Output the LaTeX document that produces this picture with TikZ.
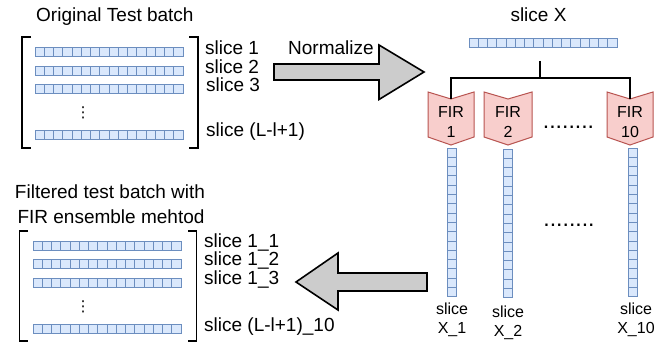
\documentclass[tikz,border=0pt]{standalone}
\usepackage{fontspec}
\setmainfont{Liberation Sans}
\newfontfamily\symfont{DejaVu Sans}
\definecolor{cellfill}{HTML}{DAE8FC}
\definecolor{cellline}{HTML}{6C8EBF}
\definecolor{firfill}{HTML}{F8CECC}
\definecolor{firline}{HTML}{B85450}
\definecolor{arrowfill}{HTML}{CCCCCC}
\tikzset{
  cell/.style={draw=cellline,fill=cellfill,line width=0.9pt},
  holder/.style={inner sep=0pt,outer sep=0pt,draw=none},
  lbl/.style={inner sep=0pt,anchor=base west,font=\fontsize{19}{23}\selectfont},
  ctr/.style={inner sep=0pt,anchor=base,font=\fontsize{19}{23}\selectfont},
  small/.style={inner sep=0pt,anchor=base,font=\fontsize{16}{19}\selectfont},
  dotsty/.style={inner sep=0pt,anchor=base,font=\fontsize{23}{26}\selectfont},
  vdots/.style={inner sep=0pt,anchor=base,font=\symfont\fontsize{15}{18}\selectfont},
  firsty/.style={draw=firline,fill=firfill,line width=1pt,line join=miter},
  bracket/.style={draw=black,line width=1.8pt},
  bigarrow/.style={draw=black,fill=arrowfill,line width=1.6pt,line join=miter},
  tree/.style={draw=black,line width=1.4pt}
}
% horizontal row of 16 cells: name, left x, top y
\newcommand\hrow[3]{%
  \node[holder,minimum width=148pt,minimum height=9pt,anchor=north west] (#1) at (#2,#3) {};
  \foreach \i in {0,...,15} {\draw[cell] (#2+\i*9.25,#3) rectangle ++(9.25,9);}
}
% vertical column of 16 cells: name, left x, top y
\newcommand\vcol[3]{%
  \node[holder,minimum width=9pt,minimum height=149pt,anchor=north west] (#1) at (#2,#3) {};
  \foreach \i in {0,...,15} {\draw[cell] (#2,#3+\i*9.3) rectangle ++(9,9.3);}
}
\newcommand\firshape[1]{%
  \draw[firsty] (#1.north west) -- ([yshift=-7pt]#1.north) -- (#1.north east)
    -- ([yshift=8pt]#1.south east) -- (#1.south) -- ([yshift=8pt]#1.south west) -- cycle;
}
\begin{document}
\begin{tikzpicture}[x=1pt,y=-1pt]
\useasboundingbox (0,0) rectangle (658,344);
\fill[white] (0,0) rectangle (658,344);

% ---------- original test batch ----------
\node[lbl] (ttl) at (36,22) {Original Test batch};
\draw[bracket] (31,37) -- (22,37) -- (22,148) -- (31,148);
\draw[bracket] (189,37) -- (198,37) -- (198,148) -- (189,148);
\hrow{r1}{35}{47}
\hrow{r2}{35}{66}
\hrow{r3}{35}{84}
\hrow{rn}{35}{130}
\node[vdots] (vd1) at (83,118) {⋮};
\node[lbl] (s1) at (205,55) {slice 1};
\node[lbl] (s2) at (205,74) {slice 2};
\node[lbl] (s3) at (206,92) {slice 3};
\node[lbl] (sn) at (206,137) {slice (L-l+1)};

% ---------- normalize arrow ----------
\coordinate (na0) at (274,72);
\coordinate (na1) at (424,72);
\draw[bigarrow] (274,64) -- (379,64) -- (379,45) -- (na1) -- (379,99.5) -- (379,80) -- (274,80) -- cycle;
\node[lbl] (norm) at (288,55) {Normalize};

% ---------- slice X ----------
\node[ctr] (sxt) at (538.5,22) {slice X};
\hrow{sx}{469}{38}
\coordinate (sxs) at (540,61);
\coordinate (sxj) at (540,78);

% ---------- FIR filters ----------
\node[holder,minimum width=46pt,minimum height=53pt] (fir1) at (451,118.5) {};
\node[holder,minimum width=48pt,minimum height=53pt] (fir2) at (508,118.5) {};
\node[holder,minimum width=46pt,minimum height=53pt] (fir10) at (630,118.5) {};
\firshape{fir1}
\firshape{fir2}
\firshape{fir10}
\node[small] (f1a) at (451,118) {FIR};
\node[small] (f1b) at (451,138) {1};
\node[small] (f2a) at (508,118) {FIR};
\node[small] (f2b) at (508,138) {2};
\node[small] (f10a) at (630,118) {FIR};
\node[small] (f10b) at (630,138) {10};
\node[dotsty] (hd1) at (568.5,128.5) {........};

\draw[tree] (sxs) -- (sxj) -| ([yshift=-7pt]fir1.north);
\draw[tree] (sxj) -| ([yshift=-7pt]fir10.north);

% ---------- filtered columns ----------
\vcol{c1}{447}{148}
\vcol{c2}{503.5}{149}
\vcol{c10}{628}{148}
\node[small] (c1a) at (452,315) {slice};
\node[small] (c1b) at (452,334) {X\_1};
\node[small] (c2a) at (508,317) {slice};
\node[small] (c2b) at (508,336) {X\_2};
\node[small] (c10a) at (636,315) {slice};
\node[small] (c10b) at (636,334) {X\_10};
\node[dotsty] (hd2) at (569,226.5) {........};

% ---------- back arrow ----------
\coordinate (ba1) at (296,282);
\draw[bigarrow] (427,273) -- (338,273) -- (338,253) -- (ba1) -- (338,310) -- (338,291) -- (427,291) -- cycle;

% ---------- filtered test batch ----------
\node[ctr] (ft1) at (110,199) {Filtered test batch with};
\node[ctr] (ft2) at (111,224) {FIR ensemble mehtod};
\draw[bracket] (28,231) -- (19.5,231) -- (19.5,341) -- (28,341);
\draw[bracket] (188,231) -- (196.5,231) -- (196.5,341) -- (188,341);
\hrow{q1}{33}{241}
\hrow{q2}{33}{259}
\hrow{q3}{33}{278}
\hrow{qn}{33}{324}
\node[vdots] (vd2) at (83,312) {⋮};
\node[lbl] (t1) at (204,248) {slice 1\_1};
\node[lbl] (t2) at (204,266) {slice 1\_2};
\node[lbl] (t3) at (204,285) {slice 1\_3};
\node[lbl] (tn) at (204,331) {slice (L-l+1)\_10};
\end{tikzpicture}
\end{document}
